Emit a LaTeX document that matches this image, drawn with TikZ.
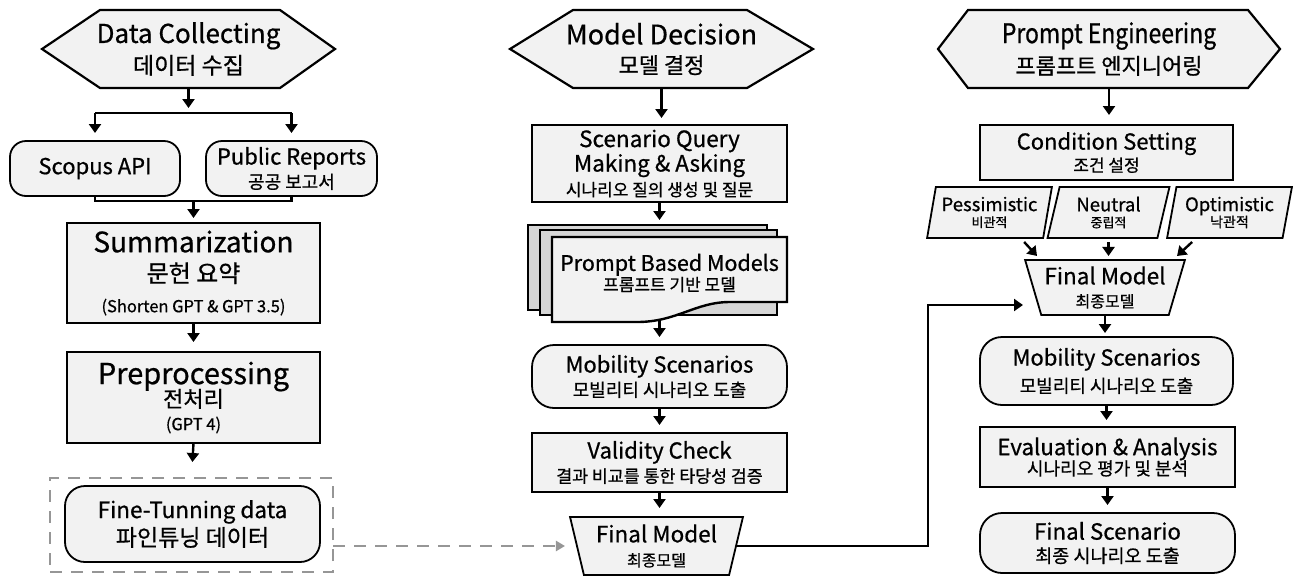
\documentclass[tikz,border=0pt]{standalone}
\usepackage{fontspec}
\setmainfont[RawFeature={embolden=0.7}]{Noto Sans CJK KR}
\newfontfamily\narrowfont[RawFeature={embolden=0.7},FakeStretch=0.85]{Noto Sans CJK KR}
\usetikzlibrary{arrows.meta,calc,shapes.geometric,backgrounds}

\definecolor{boxfill}{RGB}{242,242,242}
\definecolor{layerfill}{RGB}{214,214,214}
\definecolor{dashgray}{RGB}{150,150,150}

% one line of text at a given size
\newcommand\tl[2]{{\fontsize{#1}{#1}\selectfont #2}}
% hexagon outline around a node: #2 = left tip depth, #3 = right tip depth
\newcommand\hexframe[3]{\path[hexline] (#1.west) -- ($(#1.north west)+(#2,0)$) -- ($(#1.north east)+(-#3,0)$) -- (#1.east) -- ($(#1.south east)+(-#3,0)$) -- ($(#1.south west)+(#2,0)$) -- cycle;}

\tikzset{
  x=1pt, y=-1pt,
  every node/.style={inner sep=0pt, outer sep=0pt},
  lbl/.style={align=center, font={\fontsize{10}{#1}\selectfont\lineskiplimit=-100pt}},
  lbl/.default=24,
  box/.style={draw, line width=1.8pt, fill=boxfill, rectangle},
  rbox/.style={box, rounded corners=#1},
  rbox/.default=16pt,
  hexline/.style={draw, line width=2.2pt, fill=boxfill, line join=miter},
  invtrap/.style={trapezium, shape border rotate=180, trapezium stretches=true,
    draw, line width=1.8pt, fill=boxfill},
  slanted/.style={trapezium, trapezium left angle=76, trapezium right angle=104,
    trapezium stretches=true, draw, line width=1.8pt, fill=boxfill,
    minimum height=51},
  layer/.style={draw, line width=2.4pt, fill=layerfill},
  ln/.style={line width=2.4pt},
  arr/.style={line width=2.4pt, -{Triangle[width=12pt,length=9pt]}},
  dashbox/.style={draw=dashgray, line width=2.6pt, dash pattern=on 12pt off 9pt},
  dasharr/.style={draw=dashgray, line width=2.6pt, dash pattern=on 12pt off 9pt,
    -{Triangle[width=10pt,length=9pt]}},
}

\begin{document}
\begin{tikzpicture}
\useasboundingbox (0,0) rectangle (1295,576);

% ---------------- data collecting column ----------------
\node[lbl=31, minimum width=293, minimum height=78] (dc) at (188.5,49)
  {\tl{26}{Data Collecting}\\\tl{23}{데이터 수집}};
\node[rbox, lbl, minimum width=170, minimum height=55] (scopus) at (95,168.5)
  {\tl{22}{Scopus API}};
\node[rbox, lbl=24, minimum width=171, minimum height=55] (public) at (291.5,168.5)
  {\tl{22}{Public Reports}\\\tl{18}{공공 보고서}};
\node[box, lbl=30, minimum width=253, minimum height=100] (summ) at (193.5,273)
  {\tl{28}{Summarization}\\\tl{24}{문헌 요약}\\\tl{16.5}{(Shorten GPT \& GPT 3.5)}};
\node[box, lbl=23, minimum width=253, minimum height=91] (prep) at (193.5,397.5)
  {\tl{29}{Preprocessing}\\\tl{22}{전처리}\\\tl{16.5}{(GPT 4)}};
\node[dashbox, minimum width=283, minimum height=94] (ftgroup) at (191.5,525) {};
\node[rbox=20pt, lbl=28, minimum width=255, minimum height=76] (fine) at (192.5,524)
  {\tl{22.5}{Fine-Tunning data}\\\tl{23}{파인튜닝 데이터}};

\coordinate (split) at (188.5,113);
\coordinate (merge) at (193.5,201);
\draw[arr, shorten >=5pt] (dc.south) -- (split);
\draw[ln] (split -| scopus) -- (split -| public);
\draw[arr, shorten >=8pt] (split -| scopus) -- (scopus.north);
\draw[arr, shorten >=8pt] (split -| public) -- (public.north);
\draw[ln] (scopus.south) -- (scopus.south |- merge) -- (public.south |- merge) -- (public.south);
\draw[arr, shorten >=5pt] (merge) -- (summ.north);
\draw[arr, shorten >=10pt] (summ.south) -- (prep.north);
\draw[arr, shorten >=16pt] (prep.south) -- (ftgroup.north);

% ---------------- model decision column ----------------
\node[lbl=29, minimum width=303, minimum height=78] (md) at (661.5,49)
  {\tl{27}{Model Decision}\\\tl{22}{모델 결정}};
\node[box, lbl=24.5, minimum width=255, minimum height=77] (sq) at (659.5,163.5)
  {\tl{22.5}{Scenario Query}\\\tl{22.5}{Making \& Asking}\\\tl{17}{시나리오 질의 생성 및 질문}};
\node[lbl=20, minimum width=235, minimum height=72] (pbm) at (669.5,273)
  {\tl{21.5}{Prompt Based Models}\\\tl{17}{프롬프트 기반 모델}};
\node[rbox=22pt, lbl=24, minimum width=255, minimum height=63] (ms1) at (659.5,376.5)
  {\tl{22}{Mobility Scenarios}\\\tl{18}{모빌리티 시나리오 도출}};
\node[box, lbl=24, minimum width=255, minimum height=59] (vc) at (659.5,462.5)
  {\tl{22}{Validity Check}\\\tl{17.3}{결과 비교를 통한 타당성 검증}};
\node[invtrap, lbl=24, trapezium left angle=75, trapezium right angle=75,
  minimum width=173, minimum height=58] (fm1) at (656.5,546)
  {\tl{22.5}{Final Model}\\\tl{16}{최종모델}};

\draw[arr, shorten >=7pt] (md.south) -- (md.south |- sq.north);
\draw[arr, shorten >=17pt] (sq.south) -- (sq.south |- pbm.north);
\draw[arr, shorten <=10pt, shorten >=8pt] (ms1.north |- pbm.south) -- (ms1.north);
\draw[arr, shorten >=8pt] (ms1.south) -- (vc.north);
\draw[arr, shorten >=9pt] (vc.south) -- (vc.south |- fm1.north);
\draw[dasharr, shorten >=12pt] (ftgroup.east |- fm1.west) -- (fm1.west);

% ---------------- prompt engineering column ----------------
\node[lbl=31, minimum width=342, minimum height=78] (pe) at (1109,49)
  {\tl{27}{\narrowfont Prompt Engineering}\\\tl{22}{프롬프트 엔지니어링}};
\node[box, lbl=22, minimum width=253, minimum height=55] (cs) at (1106.5,152.5)
  {\tl{22}{Condition Setting}\\\tl{17}{조건 설정}};
\node[slanted, lbl=16, minimum width=125] (pess) at (989.5,212.5)
  {\tl{18.5}{Pessimistic}\\\tl{13}{비관적}};
\node[slanted, lbl=16, minimum width=123] (neut) at (1108.5,212.5)
  {\tl{18.5}{Neutral}\\\tl{13}{중립적}};
\node[slanted, lbl=16, minimum width=125] (opti) at (1229.5,212.5)
  {\tl{18.5}{Optimistic}\\\tl{14}{낙관적}};
\node[invtrap, lbl=23, trapezium left angle=70, trapezium right angle=70,
  minimum width=160, minimum height=55] (fm2) at (1105,287.5)
  {\tl{22.5}{Final Model}\\\tl{16}{최종모델}};
\node[rbox=22pt, lbl=27, minimum width=253, minimum height=68] (ms2) at (1106.5,371)
  {\tl{22}{Mobility Scenarios}\\\tl{18}{모빌리티 시나리오 도출}};
\node[box, lbl=20, minimum width=255, minimum height=60] (ea) at (1107.5,457)
  {\tl{22.3}{Evaluation \& Analysis}\\\tl{18}{시나리오 평가 및 분석}};
\node[rbox=22pt, lbl=23, minimum width=255, minimum height=60] (fs) at (1107.5,543)
  {\tl{22.3}{Final Scenario}\\\tl{18.5}{최종 시나리오 도출}};

\draw[arr, shorten >=10pt] (pe.south) -- (pe.south |- cs.north);
\draw[arr] ($(pess.bottom right corner)+(-19,4)$) -- ($(fm2.north)+(-68,-4)$);
\draw[arr, shorten <=4pt, shorten >=4pt] (neut.south) -- (neut.south |- fm2.north);
\draw[arr] ($(opti.bottom left corner)+(25,4)$) -- ($(fm2.north)+(72,-4)$);
\draw[arr, shorten >=4pt] (fm2.south) -- (fm2.south |- ms2.north);
\draw[arr, shorten >=7pt] (ms2.south) -- (ms2.south |- ea.north);
\draw[arr, shorten >=8pt] (ea.south) -- (fs.north);

% fine-tuned model handed over to the prompt engineering stage
\coordinate (turn) at (928,305);
\coordinate (fmin) at (1023,305);
\draw[arr] (fm1.east) -- (fm1.east -| turn) -- (turn) -- (fmin);

% ---------------- outlines behind the labels ----------------
\begin{scope}[on background layer]
  \hexframe{dc}{58}{55}
  \hexframe{md}{63}{66}
  \hexframe{pe}{30}{32}
  \path[layer] ($(pbm.north west)+(-24,-12)$) rectangle ($(pbm.south east)+(-20,1)$);
  \path[layer] ($(pbm.north west)+(-12,-7)$) rectangle ($(pbm.south east)+(-10,6)$);
  \path[layer, fill=boxfill] (pbm.north west) -- (pbm.north east)
    -- ($(pbm.south east)+(0,-7)$) -- ($(pbm.south east)+(-57,-7)$)
    .. controls +(-35,0) and +(40,0) .. ($(pbm.south west)+(85,13)$)
    -- ($(pbm.south west)+(0,13)$) -- cycle;
\end{scope}
\end{tikzpicture}
\end{document}
